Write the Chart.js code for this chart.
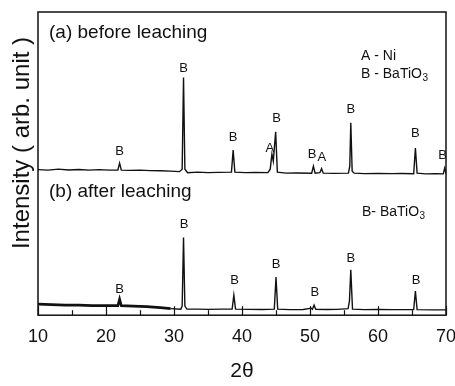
<!DOCTYPE html>
<html>
<head>
<meta charset="utf-8">
<script src="https://cdn.jsdelivr.net/npm/chart.js@4.4.0/dist/chart.umd.min.js"></script>
<style>
  html, body { margin: 0; padding: 0; background: #fff; }
  #wrap { width: 455px; height: 386px; position: relative; }
</style>
</head>
<body>
<div id="wrap"><canvas id="xrd"></canvas></div>
<script>
// XRD patterns, 2θ (deg) vs intensity (arb. unit). Pattern (a) sits on top of (b).
const twoThetaA = [10, 11.5, 13, 14.5, 16, 17.5, 19, 20.5, 21.75, 22.0, 22.25, 23.5, 25, 26.5, 28, 29.5,
  30.8, 31.2, 31.4, 31.6, 32.0, 33.5, 35, 36.5, 38.45, 38.7, 38.95, 40.5, 42, 43.8, 44.15, 44.4, 44.6,
  44.95, 45.2, 46.5, 48, 50.25, 50.5, 50.75, 51.45, 51.7, 51.95, 53.5, 55.65, 55.85, 56.0, 56.2, 56.5,
  58, 60, 62, 63.5, 65.25, 65.5, 65.75, 67, 68.5, 69.6, 69.8, 70];
const intensityA = [144.5, 144, 145, 144.2, 144.6, 144, 144.5, 144, 144.2, 151, 144, 143.8, 144, 143.5, 143.4, 143,
  142.5, 145, 236, 145, 141.5, 142, 141.5, 141.8, 142, 164, 142, 141.5, 141.7, 141.5, 145, 160, 153,
  182, 142, 141, 141.2, 141, 148, 141, 141.5, 145.5, 141, 140.8, 141, 148, 191, 143, 141,
  140.5, 140.8, 140.5, 140.6, 140.5, 166, 141, 140.3, 140.5, 140.3, 146, 140.5];

const twoThetaB = [10, 12, 14, 16, 18, 20, 21.75, 22.0, 22.25, 24, 26, 28, 29.5, 31.0, 31.2, 31.4, 31.6,
  31.9, 33.5, 35, 37, 38.55, 38.8, 39.05, 41, 43, 44.75, 45.0, 45.25, 47, 49, 50.2, 50.35, 50.6, 50.85,
  52.5, 54, 55.6, 55.8, 56.0, 56.25, 58, 60, 62, 65.25, 65.5, 65.75, 68, 70];
const intensityB = [11, 10.5, 10, 10, 9.5, 9.5, 9.5, 16, 9.5, 9, 8.5, 7.5, 6.5, 6, 9, 77, 9,
  6, 6, 5.8, 6, 6, 20, 6, 5.8, 5.7, 6, 38, 6, 5.5, 5.7, 7, 6, 10, 5.8,
  5.6, 5.8, 6.5, 14, 45, 6, 5.5, 5.6, 5.5, 5.5, 24, 5.5, 5.3, 5.3];

// phase tags above the reflections: text, 2θ, intensity level of the tag
const tagTextA = ['B', 'B', 'B', 'A', 'B', 'B', 'A', 'B', 'B', 'B'];
const tagThetaA = [22.0, 31.4, 38.7, 44.1, 45.1, 50.3, 51.75, 56.0, 65.5, 69.5];
const tagLevelA = [163, 245, 176, 166, 195, 160, 157, 204, 180, 159];

const tagTextB = ['B', 'B', 'B', 'B', 'B', 'B', 'B'];
const tagThetaB = [22.0, 31.5, 38.9, 45.0, 50.7, 56.0, 65.6];
const tagLevelB = [26, 90, 35, 50, 23, 56, 35];

const xTicks = [10, 20, 30, 40, 50, 60, 70];

const FONT = '"Liberation Sans", Arial, Helvetica, sans-serif';
const INK = '#111';

const toPoints = (xs, ys) => xs.map((x, i) => ({ x: x, y: ys[i] }));

function drawSub(ctx, main, sub, x, y, size) {
  ctx.font = size + 'px ' + FONT;
  ctx.fillText(main, x, y);
  const w = ctx.measureText(main).width;
  ctx.font = Math.round(size * 0.7) + 'px ' + FONT;
  ctx.fillText(sub, x + w + 0.5, y + size * 0.3);
}

const frameAndMarks = {
  id: 'frameAndMarks',
  afterDatasetsDraw(chart) {
    const { ctx, chartArea: a, scales: { x, y } } = chart;
    ctx.save();
    ctx.strokeStyle = INK;
    ctx.lineWidth = 1.5;
    ctx.strokeRect(a.left, a.top, a.right - a.left, a.bottom - a.top);

    // inward ticks on the 2θ axis
    ctx.lineWidth = 1.2;
    for (let v = 10; v <= 70; v += 5) {
      const px = Math.round(x.getPixelForValue(v)) + 0.5;
      const len = v % 10 === 0 ? 9 : 5;
      ctx.beginPath();
      ctx.moveTo(px, a.bottom);
      ctx.lineTo(px, a.bottom - len);
      ctx.stroke();
    }

    ctx.fillStyle = INK;
    ctx.textAlign = 'center';
    ctx.textBaseline = 'middle';
    ctx.font = '13px ' + FONT;
    tagTextA.forEach((t, i) => ctx.fillText(t, x.getPixelForValue(tagThetaA[i]), y.getPixelForValue(tagLevelA[i])));
    tagTextB.forEach((t, i) => ctx.fillText(t, x.getPixelForValue(tagThetaB[i]), y.getPixelForValue(tagLevelB[i])));

    // panel captions and phase keys
    ctx.textAlign = 'left';
    ctx.font = '19px ' + FONT;
    ctx.fillText('(a) before leaching', a.left + 11, a.top + 21);
    ctx.fillText('(b) after leaching', a.left + 11, a.top + 180);
    ctx.font = '14px ' + FONT;
    ctx.fillText('A - Ni', a.left + 323, a.top + 44);
    drawSub(ctx, 'B - BaTiO', '3', a.left + 323, a.top + 62, 14);
    drawSub(ctx, 'B- BaTiO', '3', a.left + 324, a.top + 200, 14);

    // vertical axis title
    ctx.translate(29, 143);
    ctx.rotate(-Math.PI / 2);
    ctx.textAlign = 'center';
    ctx.textBaseline = 'alphabetic';
    ctx.font = '24px ' + FONT;
    ctx.fillText('Intensity ( arb. unit )', 0, 0);
    ctx.restore();
  }
};

new Chart(document.getElementById('xrd'), {
  type: 'line',
  data: {
    datasets: [
      {
        label: '(a) before leaching',
        data: toPoints(twoThetaA, intensityA),
        borderColor: INK,
        borderWidth: 1.4,
        pointRadius: 0,
        tension: 0
      },
      {
        label: '(b) after leaching',
        data: toPoints(twoThetaB, intensityB),
        borderColor: INK,
        borderWidth: 1.4,
        pointRadius: 0,
        tension: 0,
        // the noisy low-angle background reads as a thicker band
        segment: { borderWidth: c => (c.p1.parsed.x <= 30 ? 2.6 : 1.4) }
      }
    ]
  },
  options: {
    responsive: true,
    maintainAspectRatio: false,
    animation: false,
    layout: { padding: { left: 38, right: 9, top: 12, bottom: 0 } },
    plugins: { legend: { display: false }, tooltip: { enabled: false } },
    scales: {
      x: {
        type: 'linear',
        min: 10,
        max: 70,
        afterBuildTicks: s => { s.ticks = xTicks.map(v => ({ value: v })); },
        afterFit: s => { s.paddingLeft = 0; s.paddingRight = 0; },
        grid: { display: false, drawTicks: false },
        border: { display: false },
        ticks: { padding: 11, color: INK, maxRotation: 0, font: { size: 18, family: FONT } },
        title: { display: true, text: '2θ', color: INK, font: { size: 21, family: FONT }, padding: { top: 0, bottom: 2 } }
      },
      y: { display: false, min: 0, max: 301 }
    }
  },
  plugins: [frameAndMarks]
});
</script>
</body>
</html>
